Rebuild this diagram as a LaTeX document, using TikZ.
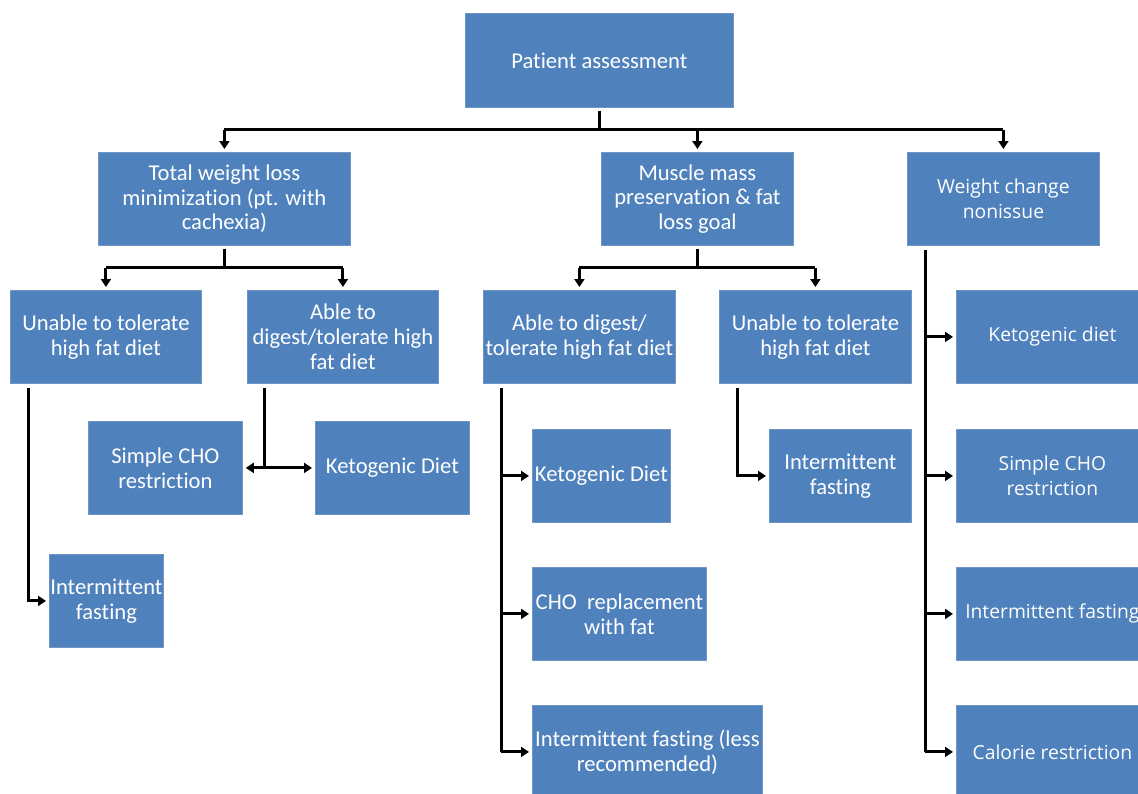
\documentclass[tikz,border=0pt]{standalone}
\usepackage{fontspec}
\setmainfont{Carlito}[Ligatures={NoCommon}]
\newfontfamily\rfont{Open Sans}[Ligatures={NoCommon}]
\usetikzlibrary{arrows.meta}
\definecolor{boxblue}{HTML}{4F81BD}
\definecolor{boxedge}{HTML}{7096C8}
\tikzset{
  ah/.tip={Triangle[length=8pt,width=10pt]},
  box/.style={draw=boxedge, line width=0.8pt, fill=boxblue, text=white, align=center,
    inner sep=0pt, anchor=north west, minimum height=93pt,
    font=\fontsize{22.6}{24.8}\selectfont},
  rbox/.style={box, minimum width=192pt, font=\rfont\fontsize{19.3}{24.5}\selectfont},
  conn/.style={draw=black, line width=3pt, -ah},
  line/.style={draw=black, line width=3pt},
}
\begin{document}
\begin{tikzpicture}[x=1pt,y=-1pt]
\clip (0,0) rectangle (1138,793);
\fill[white] (0,0) rectangle (1138,793);
% nodes
\node[box, minimum width=268pt, minimum height=94pt] (pa) at (465,13) {Patient assessment};
\node[box, minimum width=252pt] (tw) at (98,152) {Total weight loss\\minimization (pt. with\\cachexia)};
\node[box, minimum width=192pt] (mm) at (601,152) {Muscle mass\\preservation \& fat\\loss goal};
\node[rbox] (wc) at (907,152) {Weight change\\nonissue};
\node[box, minimum width=191pt] (u1) at (10,290) {Unable to tolerate\\high fat diet};
\node[box, minimum width=191pt] (a1) at (247,290) {Able to\\digest/tolerate high\\fat diet};
\node[box, minimum width=154pt] (sc1) at (88,421) {Simple CHO\\restriction};
\node[box, minimum width=154pt] (kd1) at (315,421) {Ketogenic Diet};
\node[box, minimum width=114pt] (if1) at (49,554) {Intermittent\\fasting};
\node[box, minimum width=192pt] (a2) at (483,290) {Able to digest/\\tolerate high fat diet};
\node[box, minimum width=192pt] (u2) at (719,290) {Unable to tolerate\\high fat diet};
\node[box, minimum width=138pt] (kd2) at (532,429) {Ketogenic Diet};
\node[box, minimum width=174pt] (cr2) at (532,567) {CHO\ \ replacement\\with fat};
\node[box, minimum width=230pt] (ifl2) at (532,705) {Intermittent fasting (less\\recommended)};
\node[box, minimum width=142pt] (if2) at (769,429) {Intermittent\\fasting};
\node[rbox] (kd3) at (956,290) {Ketogenic diet};
\node[rbox] (sc3) at (956,429) {Simple CHO\\restriction};
\node[rbox] (if3) at (956,567) {Intermittent fasting};
\node[rbox] (cal3) at (956,705) {Calorie restriction};
% top level
\draw[line] ([yshift=-3pt]pa.south) -- ++(0,19) coordinate (t1);
\draw[line] (t1 -| tw.north) -- (t1 -| wc.north);
\draw[conn] (t1 -| tw.north) -- ([yshift=3pt]tw.north);
\draw[conn] (t1 -| mm.north) -- ([yshift=3pt]mm.north);
\draw[conn] (t1 -| wc.north) -- ([yshift=3pt]wc.north);
% total weight loss branch
\draw[line] ([yshift=-3pt]tw.south) -- ++(0,19) coordinate (t2);
\draw[line] (t2 -| u1.north) -- (t2 -| a1.north);
\draw[conn] (t2 -| u1.north) -- ([yshift=3pt]u1.north);
\draw[conn] (t2 -| a1.north) -- ([yshift=3pt]a1.north);
% muscle mass branch
\draw[line] ([yshift=-3pt]mm.south) -- ++(0,19) coordinate (t3);
\draw[line] (t3 -| a2.north) -- (t3 -| u2.north);
\draw[conn] (t3 -| a2.north) -- ([yshift=3pt]a2.north);
\draw[conn] (t3 -| u2.north) -- ([yshift=3pt]u2.north);
% unable 1 -> IF
\coordinate (s1) at ([xshift=18pt,yshift=-4pt]u1.south west);
\draw[conn] (s1) |- ([xshift=-3pt]if1.west);
% able 1 -> simple CHO / ketogenic
\coordinate (s2) at ([xshift=17pt,yshift=-4pt]a1.south west);
\draw[line] (s2) -- (s2 |- sc1.east);
\draw[line, ah-ah] ([xshift=3pt]sc1.east) -- ([xshift=-3pt]kd1.west);
% able 2
\coordinate (s3) at ([xshift=18pt,yshift=-4pt]a2.south west);
\draw[line] (s3) -- (s3 |- ifl2.west);
\draw[conn] (s3 |- kd2.west) -- ([xshift=-3pt]kd2.west);
\draw[conn] (s3 |- cr2.west) -- ([xshift=-3pt]cr2.west);
\draw[conn] (s3 |- ifl2.west) -- ([xshift=-3pt]ifl2.west);
% unable 2
\coordinate (s4) at ([xshift=18pt,yshift=-4pt]u2.south west);
\draw[conn] (s4) |- ([xshift=-3pt]if2.west);
% weight change nonissue
\coordinate (s5) at ([xshift=18pt,yshift=-4pt]wc.south west);
\draw[line] (s5) -- (s5 |- cal3.west);
\draw[conn] (s5 |- kd3.west) -- ([xshift=-3pt]kd3.west);
\draw[conn] (s5 |- sc3.west) -- ([xshift=-3pt]sc3.west);
\draw[conn] (s5 |- if3.west) -- ([xshift=-3pt]if3.west);
\draw[conn] (s5 |- cal3.west) -- ([xshift=-3pt]cal3.west);
\end{tikzpicture}
\end{document}
